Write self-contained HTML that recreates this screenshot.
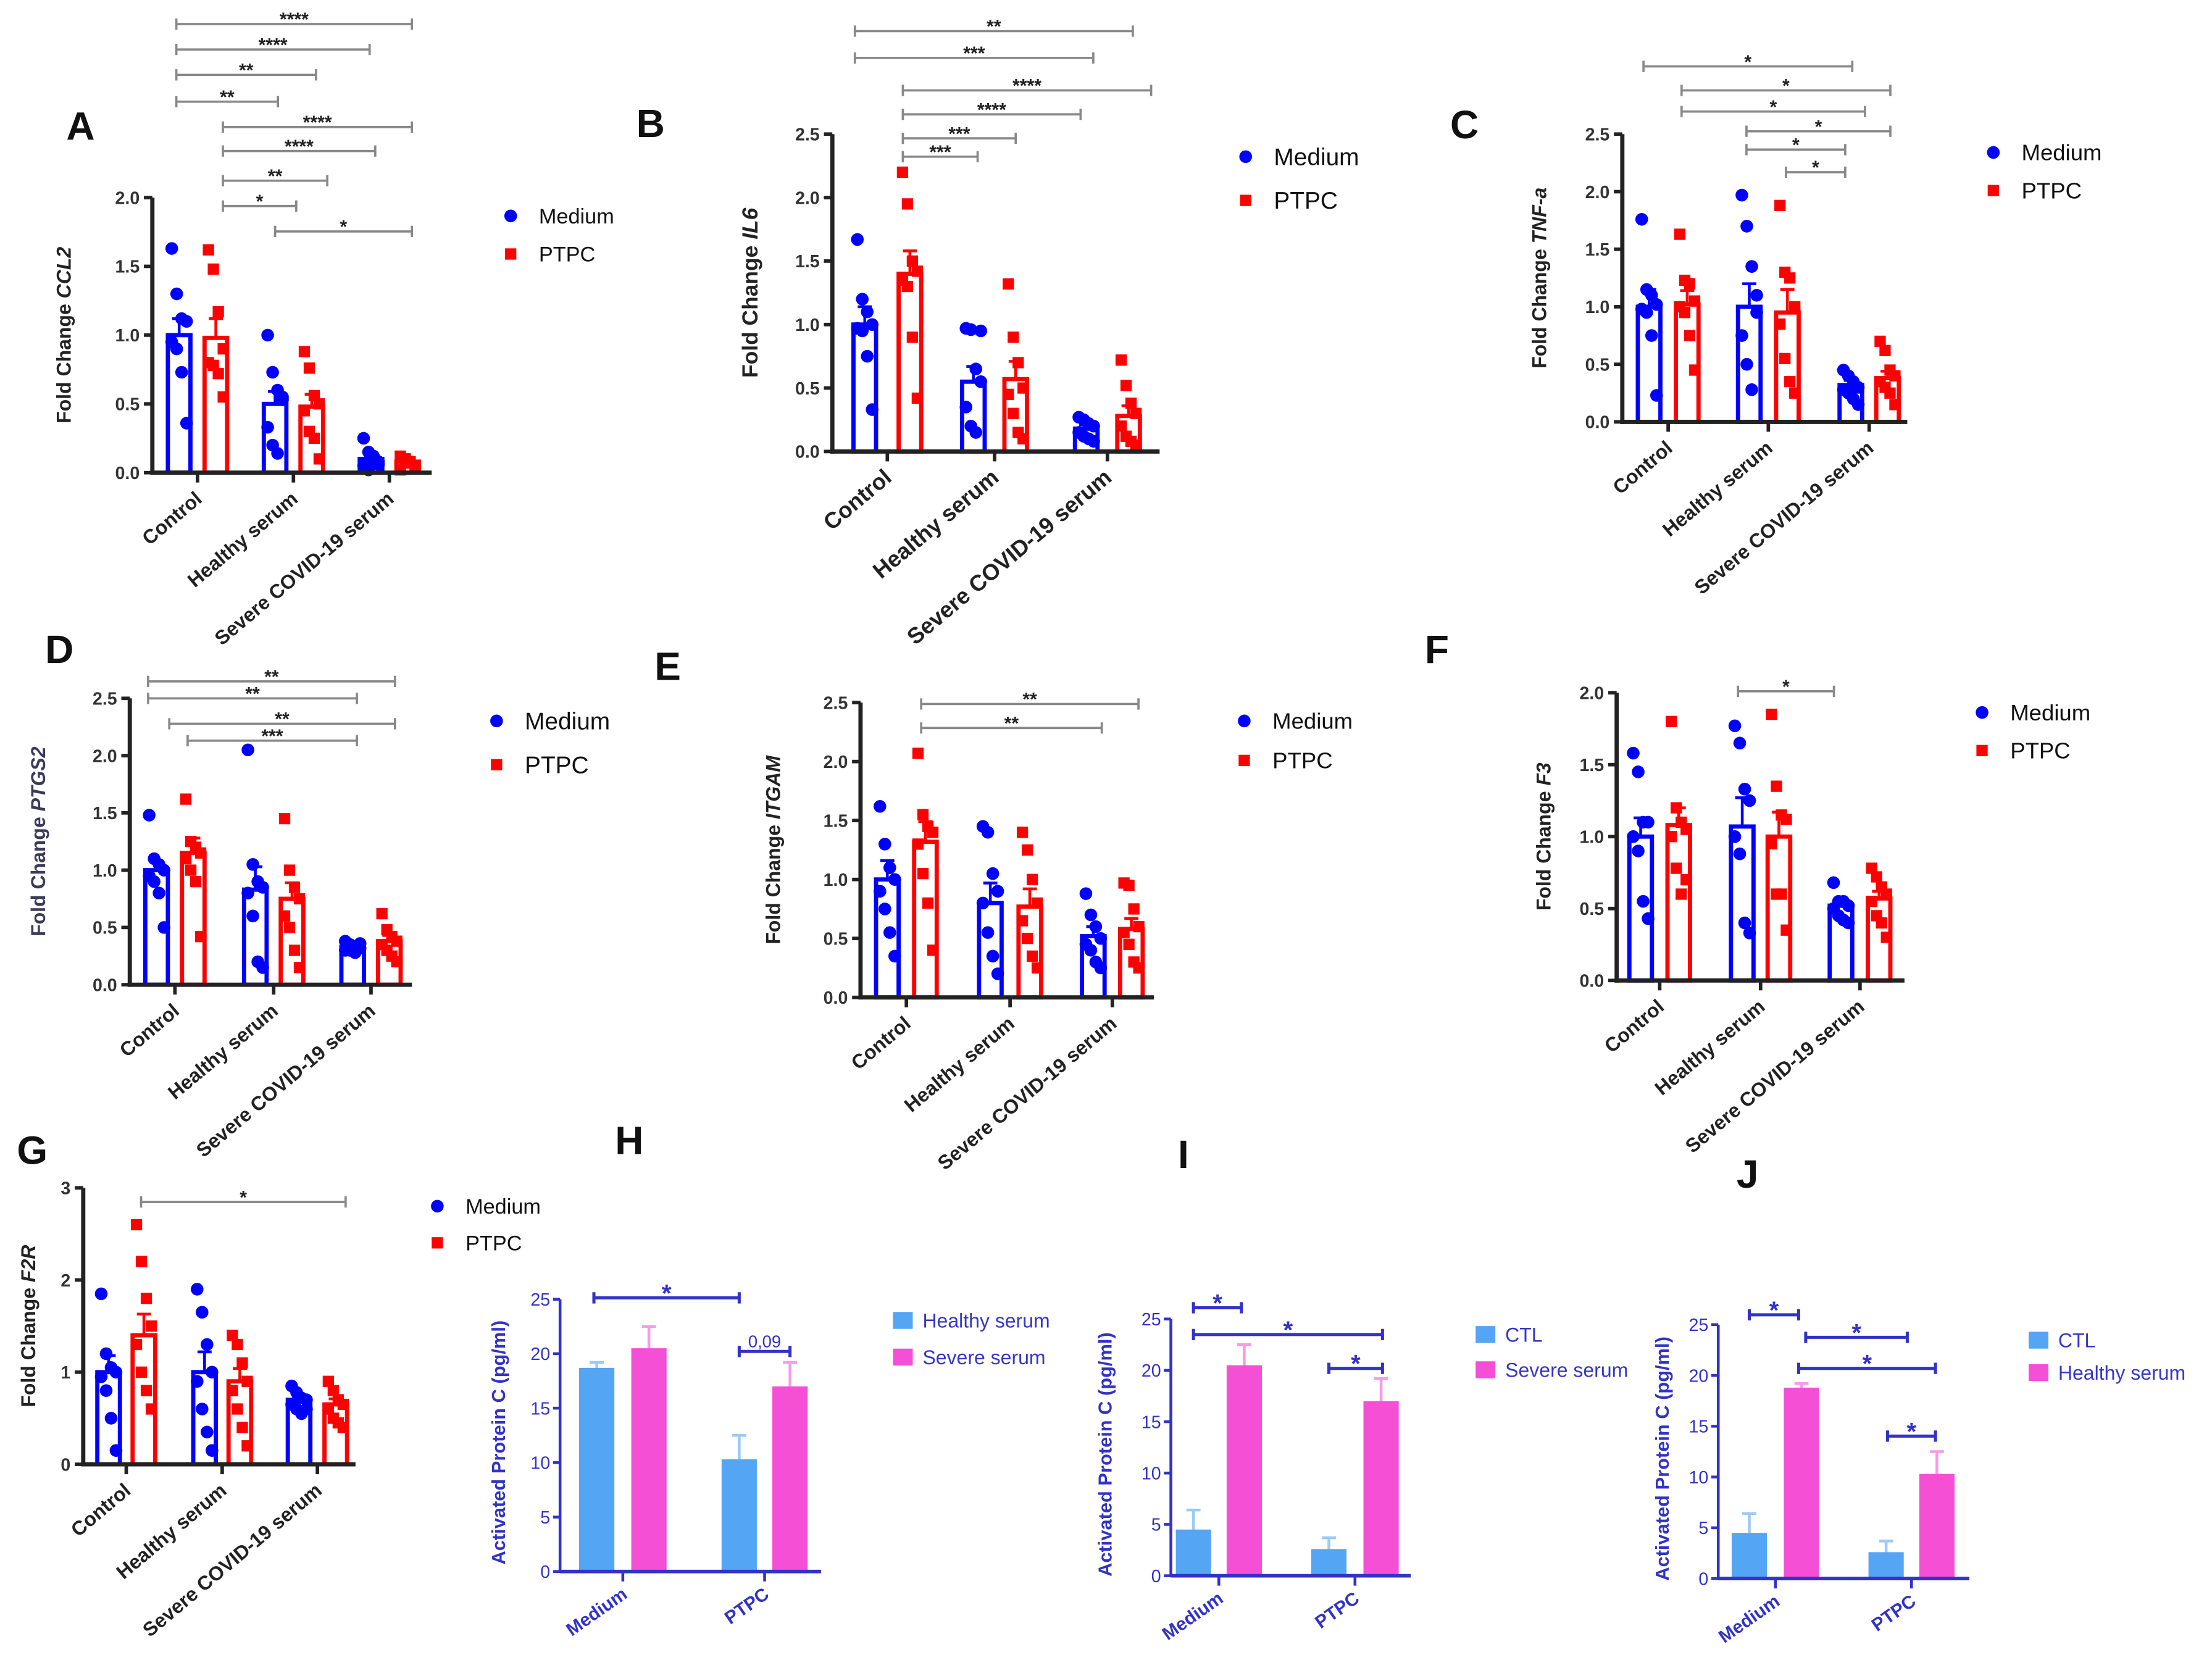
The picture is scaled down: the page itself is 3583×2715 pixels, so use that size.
<!DOCTYPE html>
<html><head><meta charset="utf-8"><style>
html,body{margin:0;padding:0;background:#fff;}
svg{display:block;font-family:"Liberation Sans",Arial,sans-serif;}
</style></head><body>
<svg id="fig" width="3583" height="2715" viewBox="0 0 1568 1188" xmlns="http://www.w3.org/2000/svg"></svg>
<script>
const NS="http://www.w3.org/2000/svg";
const svg=document.getElementById('fig');
const groups3=["Control","Healthy serum","Severe COVID-19 serum"];
// Fold change panels: means (Medium, PTPC per group)
const meansA=[1.0,0.98,0.5,0.48,0.1,0.08];
const meansB=[1.0,1.4,0.55,0.57,0.18,0.28];
const meansC=[1.0,1.02,1.0,0.95,0.32,0.38];
const meansD=[1.0,1.15,0.83,0.75,0.33,0.38];
const meansE=[1.0,1.32,0.8,0.77,0.52,0.58];
const meansF=[1.0,1.08,1.07,1.0,0.52,0.57];
const meansG=[1.0,1.4,1.0,0.9,0.7,0.65];
const errA=[0.12,0.14,0.09,0.09,0.03,0.02];
const errB=[0.14,0.18,0.12,0.14,0.03,0.08];
const errC=[0.15,0.12,0.2,0.2,0.04,0.06];
const errD=[0.08,0.13,0.2,0.14,0.02,0.05];
const errE=[0.16,0.17,0.17,0.15,0.08,0.09];
const errF=[0.13,0.12,0.2,0.17,0.04,0.05];
const errG=[0.18,0.23,0.22,0.14,0.04,0.06];
const ptsA=[[1.63,1.3,1.12,1.1,0.95,0.9,0.73,0.36],[1.62,1.48,1.17,0.9,0.8,0.78,0.72,0.55],[1.0,0.73,0.6,0.55,0.33,0.2,0.14,0.53],[0.88,0.76,0.56,0.5,0.45,0.3,0.25,0.1],[0.25,0.15,0.1,0.08,0.05,0.02,0.12,0.06],[0.12,0.1,0.08,0.05,0.02,0.1,0.07,0.03]];
const ptsB=[[1.67,1.2,1.1,1.0,0.97,0.95,0.75,0.33],[2.2,1.95,1.5,1.42,1.35,1.3,0.9,0.42],[0.97,0.96,0.65,0.55,0.35,0.2,0.15,0.95],[1.32,0.9,0.7,0.5,0.45,0.3,0.15,0.1],[0.27,0.25,0.22,0.2,0.15,0.12,0.1,0.08],[0.72,0.52,0.38,0.3,0.2,0.12,0.08,0.05]];
const ptsC=[[1.76,1.15,1.1,1.02,0.98,0.95,0.75,0.23],[1.63,1.23,1.2,1.05,1.0,0.95,0.75,0.45],[1.97,1.7,1.35,1.1,0.75,0.5,0.28,0.95],[1.88,1.3,1.25,1.0,0.85,0.55,0.35,0.25],[0.45,0.4,0.35,0.3,0.28,0.25,0.2,0.15],[0.7,0.62,0.45,0.4,0.35,0.3,0.25,0.15]];
const ptsD=[[1.48,1.1,1.05,1.0,0.95,0.9,0.8,0.5],[1.62,1.25,1.2,1.15,1.1,1.0,0.9,0.42],[2.05,1.05,0.9,0.85,0.8,0.6,0.2,0.15],[1.45,1.0,0.85,0.75,0.6,0.5,0.3,0.15],[0.38,0.35,0.33,0.32,0.3,0.3,0.28,0.36],[0.62,0.48,0.42,0.38,0.35,0.3,0.25,0.2]];
const ptsE=[[1.62,1.3,1.1,1.0,0.9,0.75,0.55,0.35],[2.07,1.55,1.45,1.4,1.3,1.05,0.8,0.4],[1.45,1.4,1.05,0.9,0.8,0.55,0.35,0.2],[1.4,1.25,1.0,0.8,0.65,0.5,0.35,0.25],[0.88,0.7,0.6,0.5,0.45,0.4,0.3,0.25],[0.97,0.95,0.75,0.6,0.55,0.45,0.3,0.25]];
const ptsF=[[1.58,1.45,1.1,1.1,1.0,0.9,0.55,0.43],[1.8,1.2,1.1,1.05,1.0,0.78,0.6,0.7],[1.77,1.65,1.33,1.25,1.0,0.88,0.4,0.33],[1.85,1.35,1.15,1.12,0.95,0.6,0.6,0.35],[0.68,0.55,0.55,0.52,0.5,0.45,0.42,0.4],[0.78,0.72,0.65,0.6,0.55,0.45,0.4,0.3]];
const ptsG=[[1.85,1.2,1.05,1.0,0.95,0.8,0.5,0.15],[2.6,2.2,1.8,1.5,1.3,1.0,0.8,0.6],[1.9,1.65,1.3,1.0,0.9,0.6,0.35,0.15],[1.4,1.3,1.1,0.9,0.8,0.6,0.4,0.2],[0.85,0.78,0.72,0.7,0.65,0.6,0.55,0.6],[0.9,0.8,0.7,0.65,0.6,0.5,0.45,0.4]];
const ticks25=[0,0.5,1.0,1.5,2.0,2.5];
const ticks20=[0,0.5,1.0,1.5,2.0];
const ticks3=[0,1,2,3];
// APC panels
const apcGroups=["Medium","PTPC"];
const apcTicks=[0,5,10,15,20,25];
const meansH=[18.7,20.5,10.3,17.0];
const errH=[0.5,2.0,2.2,2.2];
const meansI=[4.5,20.5,2.6,17.0];
const errI=[1.9,2.0,1.1,2.2];
const meansJ=[4.5,18.8,2.6,10.3];
const errJ=[1.9,0.4,1.1,2.2];

function el(tag,attrs,parent){const e=document.createElementNS(NS,tag);for(const k in attrs)e.setAttribute(k,attrs[k]);(parent||svg).appendChild(e);return e;}

function foldPanel(cfg){
  const g=el('g',{});
  
  
  const ymax=cfg.ticks[cfg.ticks.length-1];
  const Y=v=>cfg.y0-(v/ymax)*(cfg.y0-cfg.y1);
  const bw=16;
  cfg.means.forEach((m,i)=>{
    const col=i%2?'#f00':'#00f';const cx=cfg.bx[i];
    const r=el('rect',{x:cx-bw/2,y:Y(m),width:bw,height:cfg.y0-Y(m),fill:'none',stroke:col,'stroke-width':3},g);
    
    
    el('line',{x1:cx,x2:cx,y1:Y(m),y2:Y(m+cfg.err[i]),stroke:col,'stroke-width':2},g);
    el('line',{x1:cx-5,x2:cx+5,y1:Y(m+cfg.err[i]),y2:Y(m+cfg.err[i]),stroke:col,'stroke-width':2},g);
    cfg.pts[i].forEach((v,j)=>{
      const dx=((j%4)-1.5)*3.5;
      if(i%2){const p=el('rect',{x:cx+dx-4,y:Y(v)-4,width:8,height:8,fill:'#f00'},g);
        }
      else{const p=el('circle',{cx:cx+dx,cy:Y(v),r:4.5,fill:'#00f'},g);
        }
    });
  });
  el('line',{x1:cfg.x0,x2:cfg.x0,y1:cfg.y1,y2:cfg.y0+1.5,stroke:'#222','stroke-width':3},g);
  el('line',{x1:cfg.x0-1.5,x2:cfg.xe,y1:cfg.y0,y2:cfg.y0,stroke:'#222','stroke-width':3},g);
  cfg.ticks.forEach(t=>{
    el('line',{x1:cfg.x0-6,x2:cfg.x0,y1:Y(t),y2:Y(t),stroke:'#222','stroke-width':2.5},g);
    const tx=el('text',{x:cfg.x0-9,y:Y(t)+4.5,'text-anchor':'end','font-size':12.5,'font-weight':'bold',fill:'#333'},g);
    tx.textContent=ymax===3?String(t):t.toFixed(1);
    
  });
  groups3.forEach((name,k)=>{
    const cx=(cfg.bx[2*k]+cfg.bx[2*k+1])/2;
    el('line',{x1:cx,x2:cx,y1:cfg.y0,y2:cfg.y0+7,stroke:'#222','stroke-width':2.5},g);
    const tx=el('text',{x:cx+4,y:cfg.y0+20,'text-anchor':'end','font-size':cfg.xfs||14,'font-weight':'bold',fill:'#222',transform:`rotate(-40 ${cx+4} ${cfg.y0+20})`},g);
    tx.textContent=name;
  });
  const yc=(cfg.y0+cfg.y1)/2;
  const yt=el('text',{x:cfg.tx,y:yc,'text-anchor':'middle','font-size':cfg.tfs||14,'font-weight':'bold',fill:cfg.tcol||'#222',transform:`rotate(-90 ${cfg.tx} ${yc})`},g);
  yt.innerHTML='Fold Change <tspan font-style="italic">'+cfg.gene+'</tspan>';
  
  cfg.br.forEach(b=>bracket(g,b,'#888',1.6,12,'#222'));
  legend(g,cfg.lx,cfg.ly,cfg.lgap,cfg.lfs,false);
  panelLabel(g,cfg.id,cfg.px,cfg.py);
}
function bracket(g,b,col,w,fs,tcol){
  const [x1,x2,y,lab]=b;
  const gg=el('g',{},g);
  
  el('line',{x1:x1,x2:x2,y1:y,y2:y,stroke:col,'stroke-width':w},gg);
  el('line',{x1:x1,x2:x1,y1:y-4,y2:y+4,stroke:col,'stroke-width':w},gg);
  el('line',{x1:x2,x2:x2,y1:y-4,y2:y+4,stroke:col,'stroke-width':w},gg);
  const star=lab[0]==='*';
  const t=el('text',{x:(x1+x2)/2,y:y-3+(star?fs*0.35:0),'text-anchor':'middle','font-size':star?fs*1.1:12,'font-weight':star?'bold':'normal',fill:tcol},gg);
  t.textContent=lab;
}
function legend(g,x,y,gap,fs,apc,names){
  const lg=el('g',{},g);
  
  if(!apc){
    el('circle',{cx:x,cy:y,r:4.5,fill:'#00f'},lg);
    el('rect',{x:x-4,y:y+gap-4,width:8,height:8,fill:'#f00'},lg);
    const t1=el('text',{x:x+20,y:y+fs*0.35,'font-size':fs,fill:'#111'},lg);t1.textContent='Medium';
    const t2=el('text',{x:x+20,y:y+gap+fs*0.35,'font-size':fs,fill:'#111'},lg);t2.textContent='PTPC';
  }else{
    el('rect',{x:x-7,y:y-6,width:14,height:12,fill:'#55a5f5'},lg);
    el('rect',{x:x-7,y:y+gap-6,width:14,height:12,fill:'#f54fd6'},lg);
    const t1=el('text',{x:x+14,y:y+5,'font-size':fs,fill:'#3636c8'},lg);t1.textContent=names[0];
    const t2=el('text',{x:x+14,y:y+gap+5,'font-size':fs,fill:'#3636c8'},lg);t2.textContent=names[1];
  }
}
function panelLabel(g,id,x,y){
  const t=el('text',{x:x,y:y,'font-size':28,'font-weight':'bold',fill:'#111'},g);
  t.textContent=id;
}
function apcPanel(cfg){
  const g=el('g',{});
  
  const blue='#3232c8';
  const Y=v=>cfg.y0-(v/25)*(cfg.y0-cfg.y1);
  const bw=25;
  cfg.means.forEach((m,i)=>{
    const col=i%2?'#f54fd6':'#55a5f5';const cx=cfg.bx[i];
    const ecol=i%2?'#f79be6':'#9acbf7';
    el('line',{x1:cx,x2:cx,y1:Y(m),y2:Y(m+cfg.err[i]),stroke:ecol,'stroke-width':2},g);
    el('line',{x1:cx-5,x2:cx+5,y1:Y(m+cfg.err[i]),y2:Y(m+cfg.err[i]),stroke:ecol,'stroke-width':2},g);
    const r=el('rect',{x:cx-bw/2,y:Y(m),width:bw,height:cfg.y0-Y(m),fill:col},g);
    
  });
  el('line',{x1:cfg.x0,x2:cfg.x0,y1:cfg.y1,y2:cfg.y0+1,stroke:blue,'stroke-width':2},g);
  el('line',{x1:cfg.x0,x2:cfg.xe,y1:cfg.y0,y2:cfg.y0,stroke:blue,'stroke-width':2.5},g);
  apcTicks.forEach(t=>{
    el('line',{x1:cfg.x0-5,x2:cfg.x0,y1:Y(t),y2:Y(t),stroke:blue,'stroke-width':2},g);
    const tx=el('text',{x:cfg.x0-7,y:Y(t)+4.5,'text-anchor':'end','font-size':12.5,fill:blue},g);
    tx.textContent=t;
  });
  apcGroups.forEach((name,k)=>{
    const cx=(cfg.bx[2*k]+cfg.bx[2*k+1])/2;
    el('line',{x1:cx,x2:cx,y1:cfg.y0,y2:cfg.y0+7,stroke:blue,'stroke-width':2},g);
    const tx=el('text',{x:cx+4,y:cfg.y0+18,'text-anchor':'end','font-size':13,'font-weight':'bold',fill:blue,transform:`rotate(-35 ${cx+4} ${cfg.y0+18})`},g);
    tx.textContent=name;
  });
  const yc=(cfg.y0+cfg.y1)/2+5;
  const yt=el('text',{x:cfg.tx,y:yc,'text-anchor':'middle','font-size':13.5,'font-weight':'bold',fill:blue,transform:`rotate(-90 ${cfg.tx} ${yc})`},g);
  yt.textContent='Activated Protein C (pg/ml)';
  cfg.br.forEach(b=>bracket(g,b,blue,2.2,16,blue));
  legend(g,cfg.lx,cfg.ly,cfg.lgap,14,true,cfg.names);
  panelLabel(g,cfg.id,cfg.px,cfg.py);
}

foldPanel({id:'A',gene:'CCL2',means:meansA,err:errA,pts:ptsA,ticks:ticks20,x0:108,xe:306,y0:335,y1:140,bx:[127,153,195,221,263,289],tx:50,px:47,py:99,
  lx:362,ly:153,lgap:27,lfs:15,
  br:[[125,292,17,'****'],[125,262,35,'****'],[125,224,53,'**'],[125,197,72,'**'],[158,292,90,'****'],[158,266,107,'****'],[158,232,128,'**'],[158,210,146,'*'],[195,292,164,'*']]});
foldPanel({id:'B',gene:'IL6',means:meansB,err:errB,pts:ptsB,ticks:ticks25,x0:590,xe:822,y0:320,y1:95,bx:[613,645,690,720,770,800],tx:537,px:451,py:97,
  lx:883,ly:111,lgap:31,lfs:17,xfs:16,tfs:15.5,
  br:[[606,803,22,'**'],[606,775,41,'***'],[640,816,64,'****'],[640,766,81,'****'],[640,720,98,'***'],[640,693,111,'***']]});
foldPanel({id:'C',gene:'TNF-a',means:meansC,err:errC,pts:ptsC,ticks:ticks25,x0:1150,xe:1352,y0:299,y1:95,bx:[1169,1196,1240,1267,1312,1338],tx:1096,px:1028,py:98,
  lx:1413,ly:108,lgap:27,lfs:16,
  br:[[1165,1313,47,'*'],[1192,1340,64,'*'],[1192,1322,79,'*'],[1238,1340,93,'*'],[1238,1308,106,'*'],[1266,1308,122,'*']]});
foldPanel({id:'D',gene:'PTGS2',means:meansD,err:errD,pts:ptsD,ticks:ticks25,x0:92,xe:292,y0:698,y1:495,bx:[111,137,181,207,250,276],tx:32,px:32,py:470,tcol:'#3a3a5a',
  lx:352,ly:511,lgap:31,lfs:17,
  br:[[105,280,483,'**'],[105,253,495,'**'],[120,280,513,'**'],[133,253,525,'***']]});
foldPanel({id:'E',gene:'ITGAM',means:meansE,err:errE,pts:ptsE,ticks:ticks25,x0:610,xe:818,y0:707,y1:498,bx:[629,656,702,730,775,802],tx:553,px:464,py:482,
  lx:882,ly:511,lgap:28,lfs:16,
  br:[[653,807,499,'**'],[653,781,516,'**']]});
foldPanel({id:'F',gene:'F3',means:meansF,err:errF,pts:ptsF,ticks:ticks20,x0:1146,xe:1350,y0:695,y1:491,bx:[1163,1190,1235,1261,1305,1332],tx:1099,px:1010,py:470,
  lx:1405,ly:505,lgap:27,lfs:16,
  br:[[1232,1300,490,'*']]});
foldPanel({id:'G',gene:'F2R',means:meansG,err:errG,pts:ptsG,ticks:ticks3,x0:59,xe:252,y0:1038,y1:842,bx:[77,102,145,170,212,238],tx:25,px:12,py:825,
  lx:310,ly:855,lgap:26,lfs:15,
  br:[[100,245,852,'*']]});
apcPanel({id:'H',means:meansH,err:errH,x0:397,xe:582,y0:1114,y1:921,bx:[423,460,524,560],tx:358,px:436,py:818,
  lx:640,ly:936,lgap:26,names:['Healthy serum','Severe serum'],
  br:[[421,524,920,'*'],[524,560,958,'0,09']]});
apcPanel({id:'I',means:meansI,err:errI,x0:830,xe:1000,y0:1117,y1:935,bx:[846,882,942,979],tx:788,px:835,py:828,
  lx:1053,ly:946,lgap:25,names:['CTL','Severe serum'],
  br:[[846,880,927,'*'],[846,980,946,'*'],[942,980,970,'*']]});
apcPanel({id:'J',means:meansJ,err:errJ,x0:1218,xe:1396,y0:1119,y1:939,bx:[1240,1277,1337,1373],tx:1183,px:1231,py:842,
  lx:1445,ly:950,lgap:23,names:['CTL','Healthy serum'],
  br:[[1240,1275,932,'*'],[1280,1352,948,'*'],[1275,1372,970,'*'],[1338,1372,1018,'*']]});
</script>
</body></html>
